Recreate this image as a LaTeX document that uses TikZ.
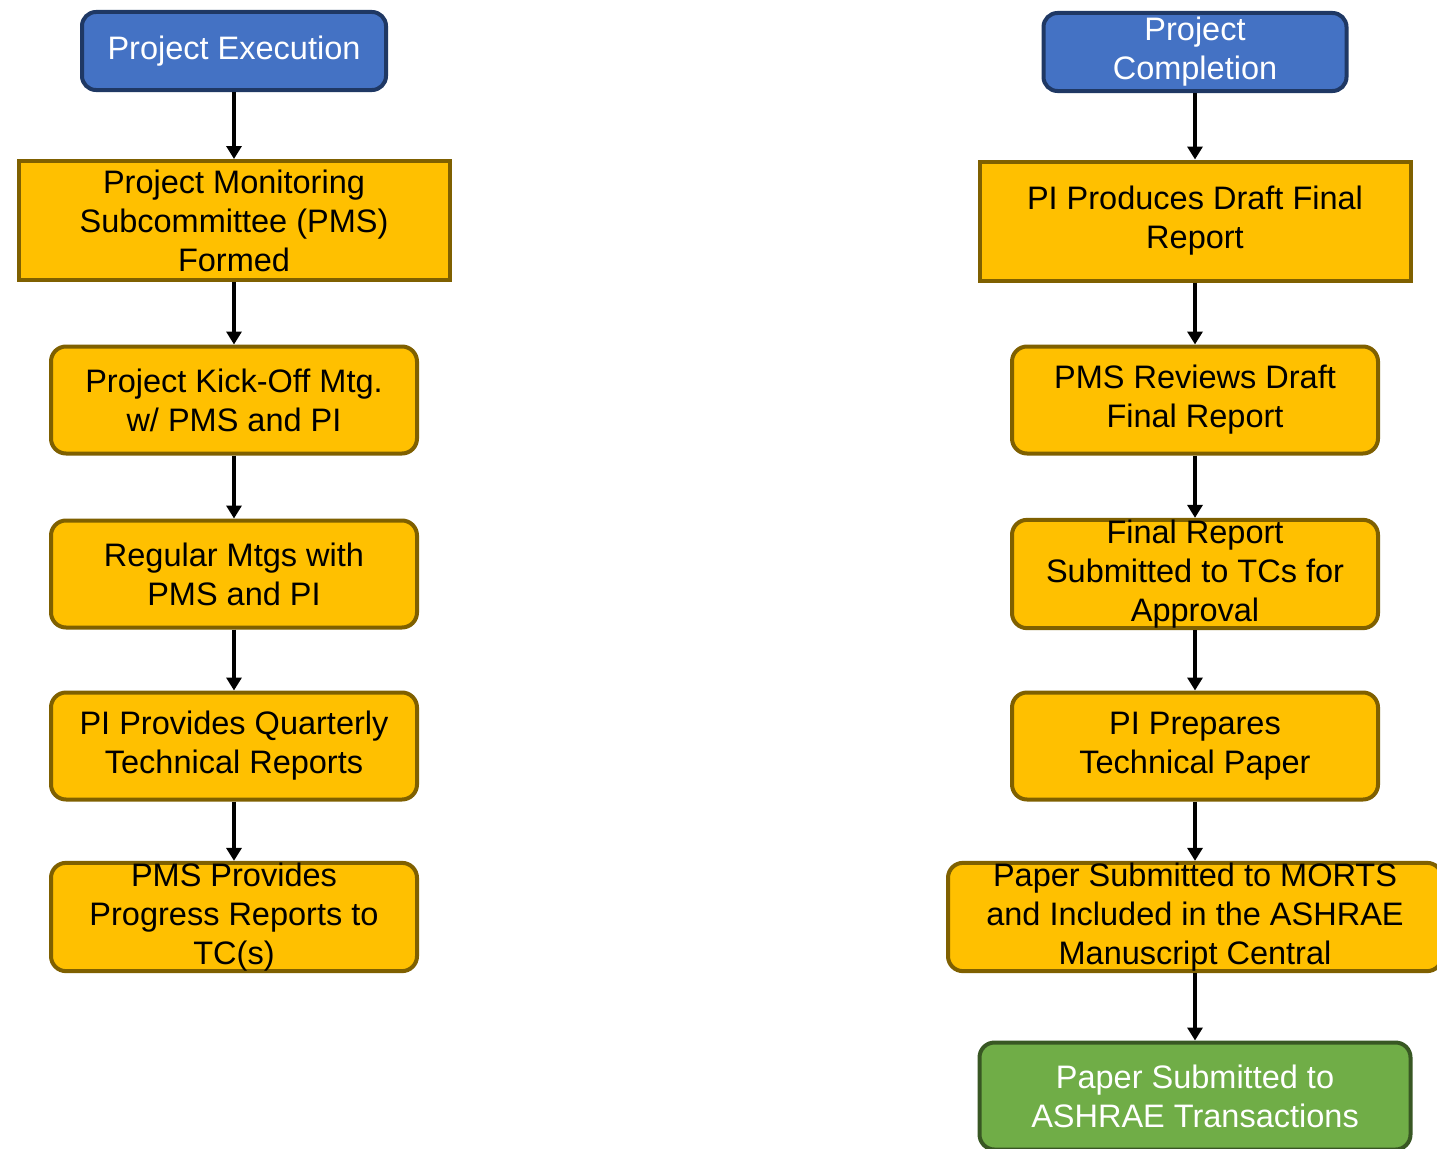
\documentclass[tikz,border=0pt]{standalone}
\usepackage{fontspec}
\setmainfont{Liberation Sans}
\usetikzlibrary{arrows.meta}
\definecolor{boxyellow}{HTML}{FFC000}
\definecolor{yellowedge}{HTML}{7F6000}
\definecolor{boxblue}{HTML}{4472C4}
\definecolor{blueedge}{HTML}{1F3864}
\definecolor{boxgreen}{HTML}{70AD47}
\definecolor{greenedge}{HTML}{385723}
\begin{document}
\begin{tikzpicture}[x=1pt,y=-1pt,
  base/.style={line width=4pt,inner sep=0pt,align=center,
    font=\fontsize{32.5}{39}\selectfont},
  yrect/.style={base,fill=boxyellow,draw=yellowedge,minimum width=431pt,minimum height=119pt},
  yround/.style={base,fill=boxyellow,draw=yellowedge,rounded corners=15pt,minimum width=366pt,minimum height=107pt},
  bround/.style={base,fill=boxblue,draw=blueedge,text=white,rounded corners=14pt,minimum height=78pt},
  ground/.style={base,fill=boxgreen,draw=greenedge,text=white,rounded corners=15pt,minimum width=431pt,minimum height=107pt},
  flow/.style={line width=3.5pt,-{Triangle[length=13pt,width=15pt]}}
]
\useasboundingbox (0,0) rectangle (1437,1148);
\fill[white] (0,0) rectangle (1437,1148);
% left column
\node[bround,minimum width=304pt] (exec) at (234,51) {Project Execution};
\node[yrect] (pms) at (234,220.5) {Project Monitoring\\Subcommittee (PMS)\\Formed};
\node[yround] (kick) at (234,400) {Project Kick-Off Mtg.\\w/ PMS and PI};
\node[yround] (reg) at (234,574) {Regular Mtgs with\\PMS and PI};
\node[yround] (prov) at (234,746) {PI Provides Quarterly\\Technical Reports};
\node[yround] (prog) at (234,917) {PMS Provides\\Progress Reports to\\TC(s)};
% right column
\node[bround,minimum width=303pt] (comp) at (1195,52) {Project\\Completion};
\node[yrect] (draft) at (1195,221) {PI Produces Draft Final\\Report};
\node[yround] (rev) at (1195,400) {PMS Reviews Draft\\Final Report};
\node[yround] (fin) at (1195,574) {Final Report\\Submitted to TCs for\\Approval};
\node[yround] (prep) at (1195,746) {PI Prepares\\Technical Paper};
\node[yround,minimum width=494pt] (morts) at (1195,917) {Paper Submitted to MORTS\\and Included in the ASHRAE\\Manuscript Central};
\node[ground] (trans) at (1195,1096) {Paper Submitted to\\ASHRAE Transactions};
% connectors
\draw[flow] (exec.south) -- (pms.north);
\draw[flow] (pms.south) -- (kick.north);
\draw[flow] (kick.south) -- (reg.north);
\draw[flow] (reg.south) -- (prov.north);
\draw[flow] (prov.south) -- (prog.north);
\draw[flow] (comp.south) -- (draft.north);
\draw[flow] (draft.south) -- (rev.north);
\draw[flow] (rev.south) -- (fin.north);
\draw[flow] (fin.south) -- (prep.north);
\draw[flow] (prep.south) -- (morts.north);
\draw[flow] (morts.south) -- (trans.north);
\end{tikzpicture}
\end{document}
